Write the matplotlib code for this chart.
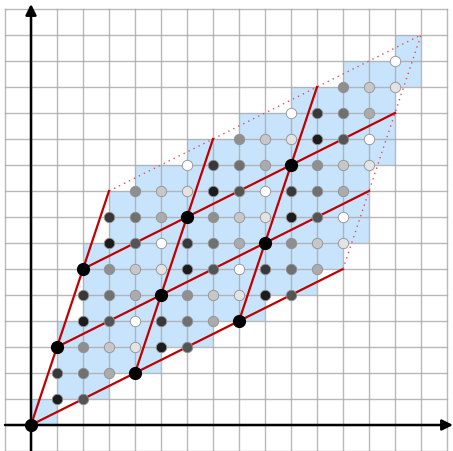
import numpy as np
import matplotlib
matplotlib.use('Agg')
import matplotlib.pyplot as plt
from matplotlib.patches import Rectangle

# lattice spanned by these two vectors
vec_a = (4, 2)
vec_b = (1, 3)
n_rep = 3  # copies of the fundamental cell along each vector

# one representative per coset (points of the first cell), ordered by x then y
reps_x = [0, 1, 1, 2, 2, 2, 3, 3, 4, 4]
reps_y = [0, 1, 2, 1, 2, 3, 2, 3, 3, 4]
# grey level of each coset, 0 = black, 1 = white
shades = [0.0, 0.11, 0.22, 0.33, 0.44, 0.56, 0.67, 0.78, 0.89, 1.0]

grid_lo, grid_hi = -1, 16

fig = plt.figure(figsize=(4.53, 4.52), dpi=100)
ax = fig.add_axes([0, 0, 1, 1])
ax.set_xlim(-31/26., 422/26.)
ax.set_ylim(-1.0, 426/26.)
ax.axis('off')

# all points of the big parallelogram
pts = []
for i in range(n_rep):
	for j in range(n_rep):
		ox = i*vec_a[0] + j*vec_b[0]
		oy = i*vec_a[1] + j*vec_b[1]
		for k in range(len(reps_x)):
			pts.append((reps_x[k] + ox, reps_y[k] + oy, shades[k]))

# blue unit square above/right of each point
for x, y, s in pts:
	ax.add_patch(Rectangle((x, y), 1, 1, facecolor='#c8e4fd', edgecolor='none', zorder=1))

# grid
for g in range(grid_lo, grid_hi + 1):
	ax.plot([g, g], [grid_lo, grid_hi], color='#a8a8a8', lw=1.0, alpha=0.8, zorder=2)
	ax.plot([grid_lo, grid_hi], [g, g], color='#a8a8a8', lw=1.0, alpha=0.8, zorder=2)

# axes with arrows
ax.annotate('', xy=(422/26., 0), xytext=(-1, 0),
	arrowprops=dict(arrowstyle='-|>', color='k', lw=1.8, mutation_scale=16, shrinkA=0, shrinkB=0), zorder=3)
ax.annotate('', xy=(0, 421/26.), xytext=(0, -1),
	arrowprops=dict(arrowstyle='-|>', color='k', lw=1.8, mutation_scale=16, shrinkA=0, shrinkB=0), zorder=3)

# solid red lines of the tiling, dotted on the far sides
red = '#c00000'
for j in range(n_rep + 1):
	x0 = j*vec_b[0]; y0 = j*vec_b[1]
	x1 = x0 + n_rep*vec_a[0]; y1 = y0 + n_rep*vec_a[1]
	if j < n_rep:
		ax.plot([x0, x1], [y0, y1], color=red, lw=1.6, zorder=4)
	else:
		ax.plot([x0, x1], [y0, y1], color='#e05050', lw=1.0, ls=(0, (1, 3)), zorder=4)
for i in range(n_rep + 1):
	x0 = i*vec_a[0]; y0 = i*vec_a[1]
	x1 = x0 + n_rep*vec_b[0]; y1 = y0 + n_rep*vec_b[1]
	if i < n_rep:
		ax.plot([x0, x1], [y0, y1], color=red, lw=1.6, zorder=4)
	else:
		ax.plot([x0, x1], [y0, y1], color='#e05050', lw=1.0, ls=(0, (1, 3)), zorder=4)

# dots coloured by coset
for x, y, s in pts:
	if s == 0:
		ax.plot(x, y, 'o', ms=8.5, mfc='k', mec='k', zorder=5)
	else:
		ax.plot(x, y, 'o', ms=7.5, mfc=str(s), mec='#909090', mew=0.6, zorder=5)

plt.savefig('out.png', dpi=100)
